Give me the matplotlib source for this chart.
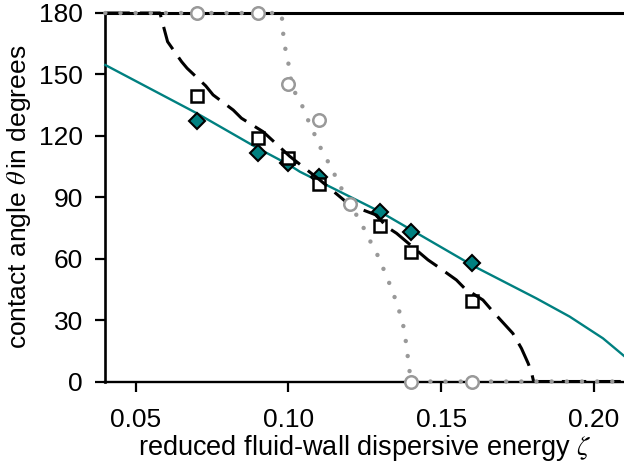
import numpy as np
import matplotlib
matplotlib.use("Agg")
import matplotlib.pyplot as plt

plt.rcParams['font.family'] = ['Liberation Sans', 'DejaVu Sans']
plt.rcParams['mathtext.fontset'] = 'stix'

# simulation points
zeta_pts = [0.07, 0.09, 0.10, 0.11, 0.13, 0.14, 0.16]
theta_diamond = [127.3, 111.8, 106.7, 100.0, 82.6, 73.0, 57.9]
theta_square = [139.5, 119.1, 109.3, 96.3, 76.0, 63.1, 39.5]

zeta_circ = [0.07, 0.09, 0.10, 0.11, 0.12, 0.14, 0.16]
theta_circ = [180, 180, 145.3, 127.7, 86.7, 0, 0]

# model curves
zeta_teal = [0.04, 0.07, 0.09, 0.10, 0.1037, 0.1299, 0.1403, 0.1610, 0.1812, 0.1921, 0.2030, 0.2063, 0.2099]
theta_teal = [154.6, 131.0, 113.9, 106.0, 102.5, 83.0, 74.0, 56.1, 40.6, 31.7, 21.1, 17.0, 12.5]

zeta_dash = [0.04, 0.0579, 0.0595, 0.0604, 0.0650, 0.0668, 0.0729, 0.0753, 0.0819, 0.0846, 0.0917,
             0.1004, 0.1102, 0.1201, 0.1288, 0.1321, 0.1354, 0.1457, 0.1490, 0.1550, 0.1577,
             0.1637, 0.1670, 0.1735, 0.1763, 0.1785, 0.1795, 0.1803, 0.2099]
theta_dash = [180, 180, 171.0, 166.0, 156.2, 153.0, 144.4, 140.0, 132.6, 128.6, 122.0,
              110.0, 98.5, 86.2, 81.3, 75.6, 72.4, 59.4, 56.0, 49.6, 45.5,
              39.8, 34.1, 23.5, 16.2, 8.9, 5.0, 0, 0]

zeta_dot = [0.04, 0.0977, 0.0980, 0.0983, 0.0988, 0.0996, 0.1004, 0.1010, 0.1025, 0.1044, 0.1060,
            0.1076, 0.1093, 0.1112, 0.1132, 0.1152, 0.1171, 0.1201, 0.1236, 0.1255, 0.1274,
            0.1295, 0.1310, 0.1326, 0.1342, 0.1368, 0.1377, 0.1384, 0.1393, 0.1397, 0.1400, 0.2099]
theta_dot = [180, 180, 175.5, 169.4, 163.8, 158.0, 152.2, 145.0, 140.0, 135.0, 129.0,
             124.0, 118.0, 112.0, 106.7, 100.8, 95.0, 86.7, 78.0, 72.4, 66.7,
             60.8, 55.4, 49.6, 43.7, 32.0, 26.6, 20.0, 9.5, 4.6, 0, 0]

teal = '#008080'
grey = '#999999'

fig = plt.figure(figsize=(6.24, 4.73), dpi=100)
ax = fig.add_axes([105/624, (473-381.5)/473, 519/624, 368.5/473])

ax.plot(zeta_teal, theta_teal, color=teal, lw=1.7, zorder=3, clip_on=False)
ax.plot(zeta_pts, theta_diamond, ls='none', marker='D', ms=8.5, mfc=teal, mec='black', mew=1.5,
        zorder=4, clip_on=False)
ax.plot(zeta_pts, theta_square, ls='none', marker='s', ms=8, mfc='white', mec='black', mew=1.8,
        zorder=5, clip_on=False)
ax.plot(zeta_dash, theta_dash, color='black', lw=2.2, ls=(0, (8, 3.3)), zorder=6, clip_on=False)
ax.plot(zeta_dot, theta_dot, color=grey, lw=3.2, ls=(0, (0.01, 3.4)), dash_capstyle='round',
        zorder=7, clip_on=False)
ax.plot(zeta_circ, theta_circ, ls='none', marker='o', ms=9, mfc='white', mec=grey, mew=1.8,
        zorder=8, clip_on=False)

ax.set_xlim(0.0399, 0.2099)
ax.set_ylim(0, 180)
ax.set_xticks([0.05, 0.10, 0.15, 0.20])
ax.set_xticklabels(['0.05', '0.10', '0.15', '0.20'])
ax.set_yticks([0, 30, 60, 90, 120, 150, 180])

ax.spines['right'].set_visible(False)
ax.spines['top'].set_linewidth(2.2)
ax.spines['left'].set_linewidth(1.9)
ax.spines['bottom'].set_linewidth(1.7)
ax.tick_params(direction='out', length=7, width=1.6, labelsize=19)
ax.tick_params(axis='x', pad=12)
ax.tick_params(axis='y', pad=9)

ax.set_xlabel('reduced fluid-wall dispersive energy $\\zeta$', fontsize=19.5, labelpad=1)
ax.set_ylabel('contact angle $\\theta\\,$in degrees', fontsize=19, labelpad=4)

fig.savefig('out.png', dpi=100)
